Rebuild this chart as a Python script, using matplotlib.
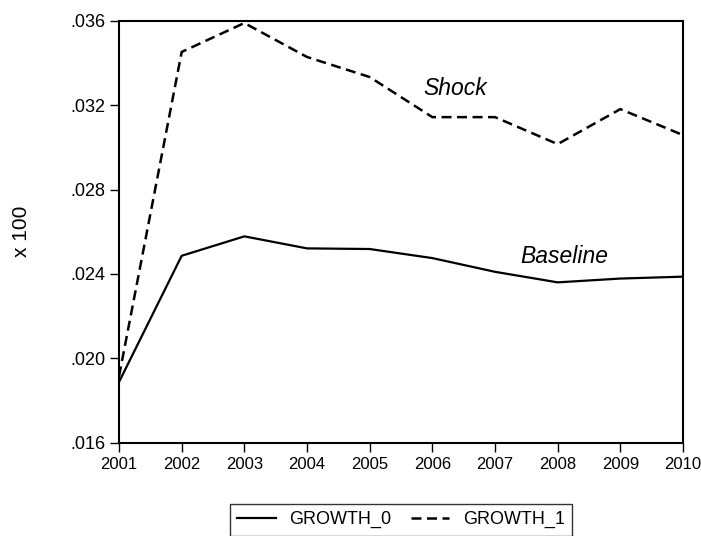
import matplotlib.pyplot as plt

plt.rcParams['font.family'] = ['Liberation Sans', 'DejaVu Sans']

years = [2001, 2002, 2003, 2004, 2005, 2006, 2007, 2008, 2009, 2010]
growth_0 = [0.01888, 0.02486, 0.02578, 0.02521, 0.02518, 0.02475, 0.02410, 0.02360, 0.02378, 0.02387]
growth_1 = [0.01915, 0.03452, 0.03589, 0.03428, 0.03333, 0.03143, 0.03143, 0.03015, 0.03181, 0.03058]
yticks = [0.016, 0.020, 0.024, 0.028, 0.032, 0.036]
ytick_labels = ['.016', '.020', '.024', '.028', '.032', '.036']

fig = plt.figure(figsize=(7.01, 5.36), dpi=100)
ax = fig.add_axes([0.1698, 0.174, 0.8045, 0.7874])

ax.plot(years, growth_0, color='black', lw=1.6, label='GROWTH_0')
ax.plot(years, growth_1, color='black', lw=1.8, dashes=(4, 2.2), label='GROWTH_1')

ax.set_xlim(2001, 2010)
ax.set_ylim(0.016, 0.036)
ax.set_xticks(years)
ax.set_xticklabels([str(y) for y in years], fontsize=12)
ax.set_yticks(yticks)
ax.set_yticklabels(ytick_labels, fontsize=13)
ax.tick_params(direction='out', length=6.5, width=1, pad=3.5, colors='black')
for s in ax.spines.values():
    s.set_linewidth(1.5)
ax.set_ylabel('x 100', fontsize=15, labelpad=28)

ax.text(2005.85, 0.03248, 'Shock', fontsize=16.5, style='italic', ha='left', va='baseline')
ax.text(2007.41, 0.0245, 'Baseline', fontsize=16.5, style='italic', ha='left', va='baseline')

leg = fig.legend(loc='upper center', bbox_to_anchor=(401 / 701, 1 - 504 / 536), ncol=2,
                 fontsize=13, frameon=True, fancybox=False, handlelength=2.15,
                 handletextpad=0.75, columnspacing=1.05, borderpad=0.4, borderaxespad=0)
leg.get_frame().set_edgecolor('black')
leg.get_frame().set_linewidth(1.0)

fig.savefig('out.png', dpi=100)
